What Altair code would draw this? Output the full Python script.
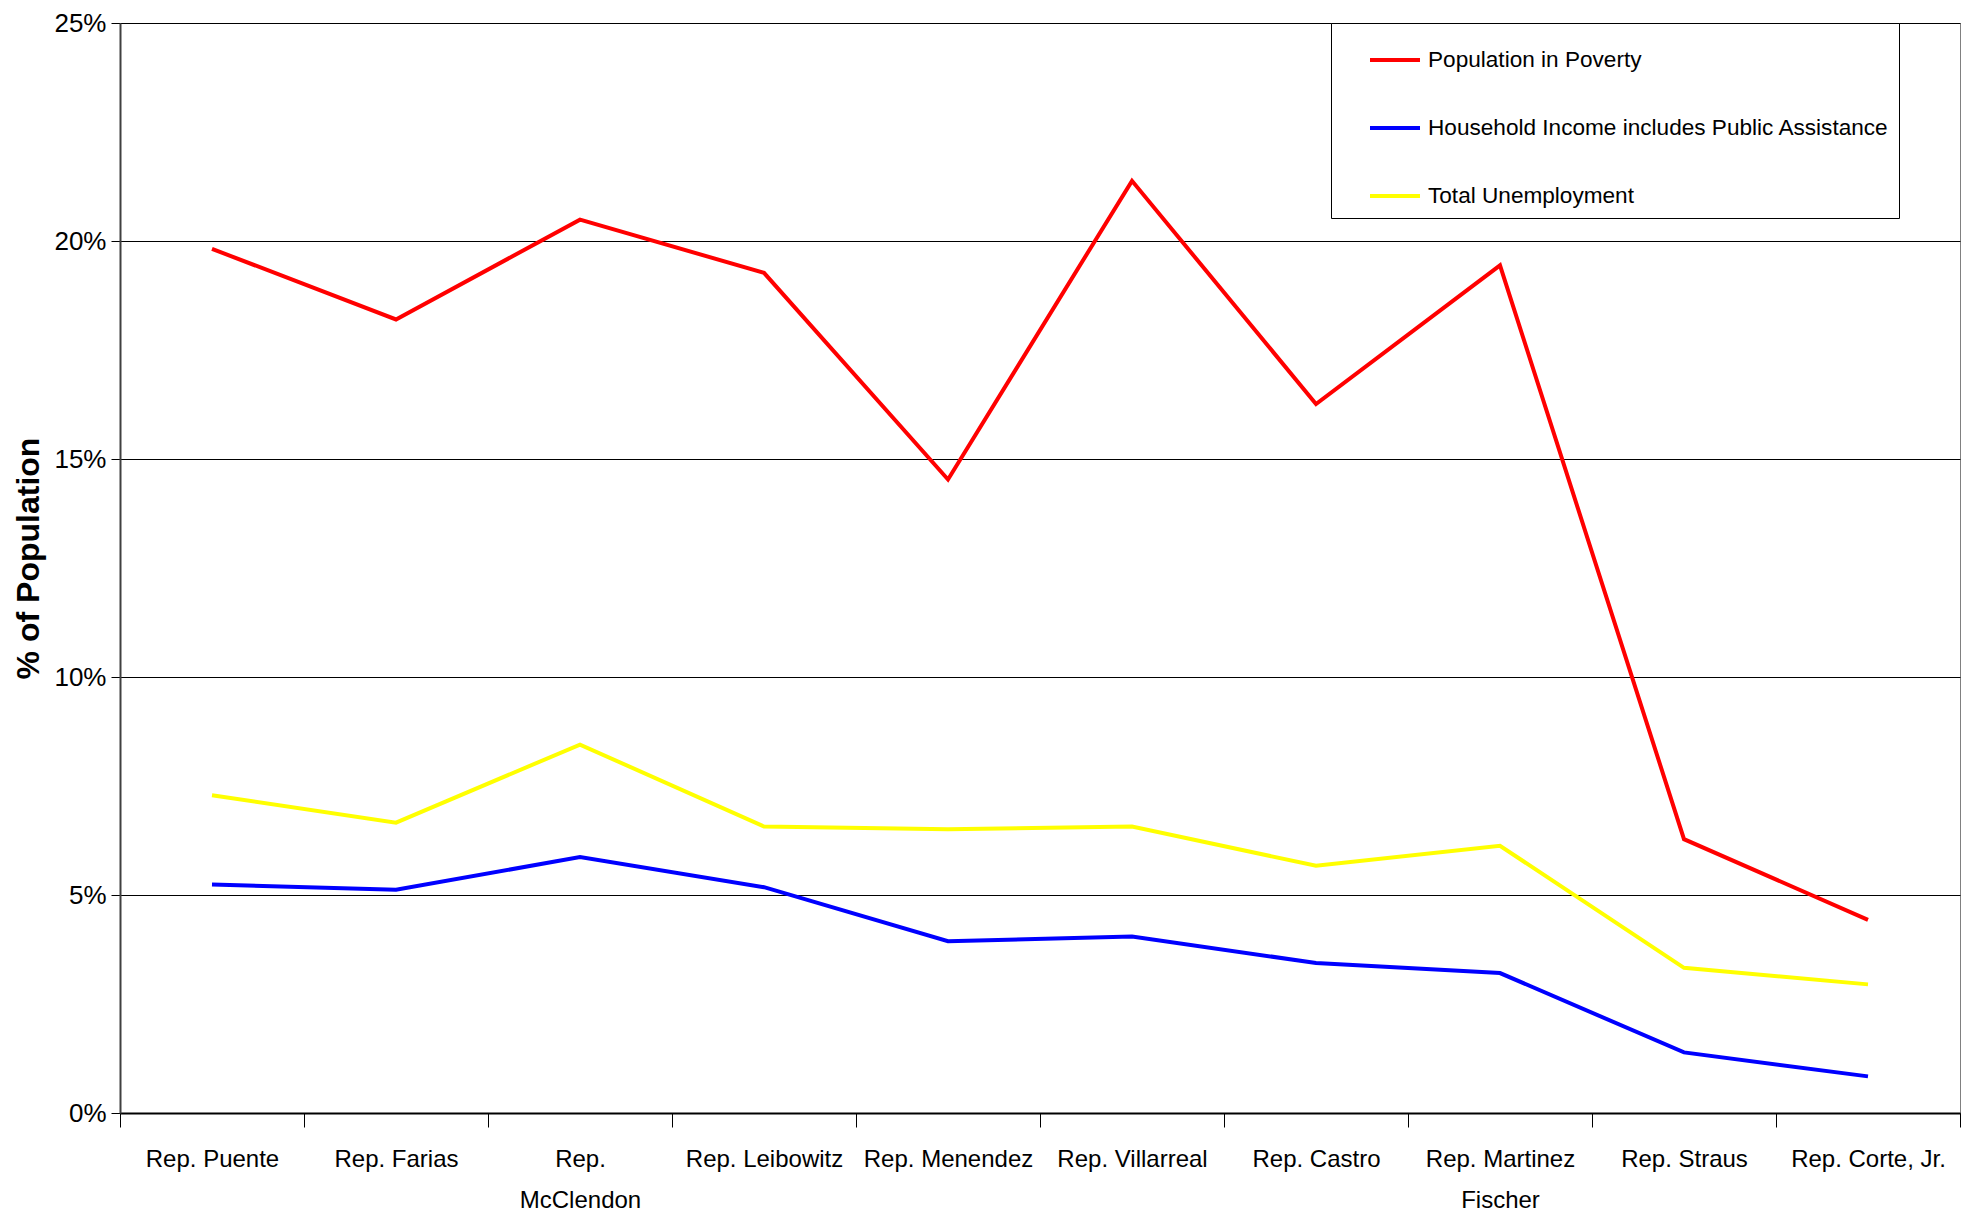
import altair as alt
import pandas as pd

categories = ["Rep. Puente", "Rep. Farias", "Rep. McClendon", "Rep. Leibowitz", "Rep. Menendez",
              "Rep. Villarreal", "Rep. Castro", "Rep. Martinez Fischer", "Rep. Straus", "Rep. Corte, Jr."]
series_names = ["Population in Poverty", "Household Income includes Public Assistance", "Total Unemployment"]
series_colors = ["#FF0000", "#0000FF", "#FFFF00"]

poverty = [19.82, 18.20, 20.49, 19.27, 14.53, 21.38, 16.26, 19.44, 6.28, 4.43]
public_assistance = [5.24, 5.12, 5.87, 5.18, 3.94, 4.05, 3.44, 3.21, 1.39, 0.84]
unemployment = [7.29, 6.66, 8.45, 6.57, 6.51, 6.57, 5.67, 6.13, 3.33, 2.95]

rows = []
for name, vals in zip(series_names, [poverty, public_assistance, unemployment]):
    for rep, v in zip(categories, vals):
        rows.append({"series": name, "rep": rep, "value": v})
df = pd.DataFrame(rows)

REG = "Liberation Sans, Arial, sans-serif"

label_expr = ("datum.value == 'Rep. McClendon' ? ['Rep.', 'McClendon'] : "
              "datum.value == 'Rep. Martinez Fischer' ? ['Rep. Martinez', 'Fischer'] : datum.label")

chart = alt.Chart(df).mark_line(strokeWidth=4).encode(
    x=alt.X("rep:N", sort=categories,
            scale=alt.Scale(type="band", paddingInner=0, paddingOuter=0),
            axis=alt.Axis(title=None, tickBand="extent", labelAngle=0, labelExpr=label_expr,
                          labelFont=REG, labelFontSize=24, labelColor="black",
                          labelLineHeight=41, labelPadding=20, labelLimit=400,
                          tickSize=14, tickColor="black", tickWidth=1,
                          domainColor="black", domainWidth=2, grid=False)),
    y=alt.Y("value:Q", scale=alt.Scale(domain=[0, 25], nice=False),
            axis=alt.Axis(values=[0, 5, 10, 15, 20, 25], labelExpr="datum.value + '%'",
                          title="% of Population", titleFont=REG, titleFontSize=32,
                          titleFontWeight="bold", titleColor="black", titlePadding=8,
                          titleY=535,
                          labelFont=REG, labelFontSize=26, labelColor="black", labelPadding=5,
                          tickSize=9, tickColor="black", domainColor="#404040", domainWidth=2,
                          grid=True, gridColor="black", gridWidth=1, gridOpacity=1)),
    color=alt.Color("series:N",
                    scale=alt.Scale(domain=series_names, range=series_colors),
                    legend=alt.Legend(title=None, orient="none", legendX=1211, legendY=0,
                                      direction="vertical", symbolType="stroke", symbolSize=2500,
                                      symbolStrokeWidth=4, labelFont=REG, labelFontSize=22.6,
                                      labelColor="black", rowPadding=29, padding=10,
                                      strokeColor="black", fillColor="white",
                                      symbolOffset=27, labelOffset=6, labelLimit=800)),
).properties(
    width=1840, height=1090,
    autosize=alt.AutoSizeParams(type="none"),
    padding={"left": 112, "top": 15, "right": 10, "bottom": 100},
).configure_view(stroke="#808080", strokeWidth=1)

chart.save("out.html", embed_options={"renderer": "svg", "actions": False})
